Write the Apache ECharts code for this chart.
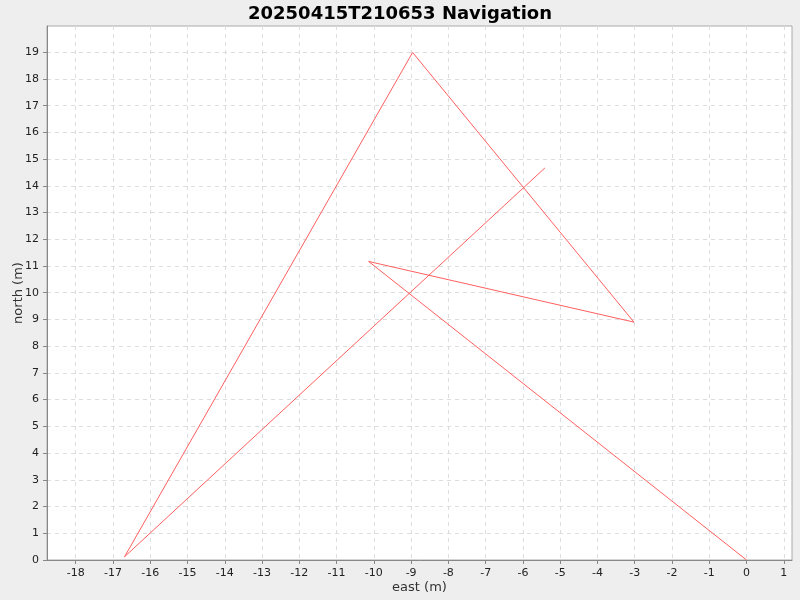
<!DOCTYPE html>
<html>
<head>
<meta charset="utf-8">
<style>
  html, body { margin: 0; padding: 0; background: #eeeeee; }
  #chart { width: 800px; height: 600px; }
</style>
<script src="https://cdn.jsdelivr.net/npm/echarts@6/dist/echarts.min.js"></script>
</head>
<body>
<div id="chart"></div>
<script>
// Track points (east, north) in metres, in travel order
const eastValues = [0, -10.14, -3.02, -8.96, -16.69, -5.41];
const northValues = [0, 11.17, 8.90, 18.99, 0.12, 14.67];

// Tick positions on each axis
const eastTicks = [-18, -17, -16, -15, -14, -13, -12, -11, -10, -9, -8, -7, -6, -5, -4, -3, -2, -1, 0, 1];
const northTicks = [0, 1, 2, 3, 4, 5, 6, 7, 8, 9, 10, 11, 12, 13, 14, 15, 16, 17, 18, 19];

const titleText = '20250415T210653 Navigation';
const xName = 'east (m)';
const yName = 'north (m)';

document.addEventListener('DOMContentLoaded', function() {
    const chart = echarts.init(document.getElementById('chart'), null, { renderer: 'canvas' });

    const points = eastValues.map((e, i) => [e, northValues[i]]);

    // shared axis look, ticks come from the arrays above
    function makeAxis(name, nameGap, min, max, ticks) {
        return {
            type: 'value',
            name: name,
            nameLocation: 'middle',
            nameGap: nameGap,
            nameMoveOverlap: false,
            nameTextStyle: { color: '#333', fontSize: 13, fontFamily: 'DejaVu Sans' },
            min: min,
            max: max,
            axisLine: { show: true, onZero: false, lineStyle: { color: '#888', width: 1 } },
            axisTick: { show: true, length: 4, customValues: ticks, lineStyle: { color: '#888' } },
            axisLabel: {
                color: '#222', fontSize: 11, fontFamily: 'DejaVu Sans',
                customValues: ticks
            },
            splitLine: { show: true, lineStyle: { color: '#dddddd', type: [4, 4], width: 1 } }
        };
    }

    const option = {
        backgroundColor: '#eeeeee',
        animation: false,
        title: {
            text: titleText,
            left: 'center',
            top: 0,
            textStyle: { fontSize: 18, fontWeight: 'bold', fontFamily: 'DejaVu Sans', color: '#000' }
        },
        grid: {
            left: 47, right: 8, top: 26, bottom: 40,
            containLabel: false,
            outerBoundsMode: 'none',
            show: true, backgroundColor: '#ffffff',
            borderColor: '#aaaaaa', borderWidth: 1
        },
        xAxis: makeAxis(xName, 21, -18.77, 1.22, eastTicks),
        yAxis: makeAxis(yName, 22, 0, 19.98, northTicks),
        series: [{
            type: 'line',
            data: points,
            showSymbol: false,
            symbol: 'none',
            lineStyle: { color: '#ff5f5f', width: 1 }
        }]
    };

    chart.setOption(option);
});
</script>
</body>
</html>
